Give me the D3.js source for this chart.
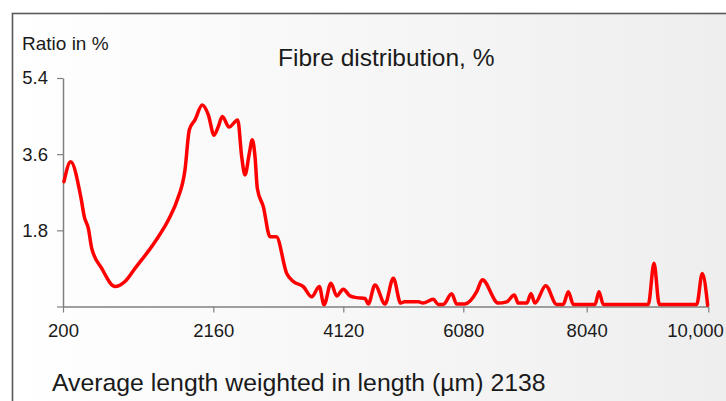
<!DOCTYPE html>
<html>
<head>
<meta charset="utf-8">
<script src="https://cdn.jsdelivr.net/npm/d3@7"></script>
<style>
  html, body { margin: 0; padding: 0; background: #ffffff; }
  svg { display: block; }
  text { font-family: "Liberation Sans", Arial, sans-serif; fill: #1a1a1a; }
</style>
</head>
<body>
<svg id="chart" width="726" height="401"></svg>
<script>
// ---- data ----
const chartTitle = "Fibre distribution, %";
const yTitle = "Ratio in %";
const footnote = "Average length weighted in length (µm) 2138";

const xTicks = [200, 2160, 4120, 6080, 8040, 10000];
const xTickLabels = ["200", "2160", "4120", "6080", "8040", "10,000"];
const yTicks = [0, 1.8, 3.6, 5.4];
const yTickLabels = ["", "1.8", "3.6", "5.4"];

// fibre length (µm)
const lengths = [
  213, 300, 435, 478, 530, 574, 705, 878, 1008, 1139, 1400, 1595, 1690, 1791, 1847, 1921,
  2016, 2095, 2171, 2235, 2296, 2397, 2528, 2588, 2638, 2703, 2748, 2789, 2824, 2914, 3015, 3110,
  3267, 3366, 3517, 3644, 3758, 3829, 3934, 4020, 4120, 4229, 4339, 4474, 4528, 4638, 4801, 4937,
  5057, 5120, 5350, 5420, 5590, 5671, 5753, 5890, 5972, 6107, 6293, 6382, 6636, 6769, 6890, 6953,
  7087, 7155, 7219, 7389, 7563, 7668, 7748, 7827, 8174, 8238, 8308, 9033, 9125, 9210, 9813, 9903, 9990
];
// ratio (%)
const ratios = [
  2.95, 3.42, 2.56, 2.12, 1.85, 1.38, 0.90, 0.47, 0.59, 0.90, 1.53, 2.12, 2.52, 3.23, 4.17, 4.41,
  4.76, 4.53, 4.05, 4.25, 4.49, 4.24, 4.41, 3.54, 3.11, 3.62, 3.94, 3.54, 2.79, 2.36, 1.65, 1.65,
  0.78, 0.59, 0.47, 0.23, 0.47, 0.04, 0.55, 0.25, 0.41, 0.25, 0.21, 0.19, 0.06, 0.51, 0.06, 0.67,
  0.08, 0.11, 0.11, 0.08, 0.17, 0.05, 0.05, 0.30, 0.06, 0.06, 0.35, 0.63, 0.08, 0.11, 0.27, 0.08,
  0.08, 0.30, 0.08, 0.49, 0.05, 0.05, 0.35, 0.05, 0.05, 0.35, 0.05, 0.05, 1.02, 0.05, 0.05, 0.78, 0.03
];

// ---- drawing ----
const svg = d3.select("#chart");
const W = 726, H = 401;

const defs = svg.append("defs");
const grad = defs.append("linearGradient")
  .attr("id", "bg").attr("gradientUnits", "userSpaceOnUse")
  .attr("x1", 12).attr("y1", 0).attr("x2", 726).attr("y2", 0);
grad.append("stop").attr("offset", "0%").attr("stop-color", "#ffffff");
grad.append("stop").attr("offset", "100%").attr("stop-color", "#eeeeee");

// panel with border (continues past the right and bottom edges)
svg.append("rect")
  .attr("x", 12.5).attr("y", 13.5).attr("width", W + 20).attr("height", H + 20)
  .attr("fill", "url(#bg)")
  .attr("stroke", "#5a5a5a").attr("stroke-width", 1.6);

const x = d3.scaleLinear().domain(xTicks).range([63, 213.3, 343.3, 463.3, 586.7, 708.3]);
const y = d3.scaleLinear().domain([0, 5.4]).range([306.5, 78]);

// y axis
const yAxis = svg.append("g")
  .attr("transform", "translate(63,0)")
  .call(d3.axisLeft(y).tickValues(yTicks)
    .tickFormat((d, i) => yTickLabels[i])
    .tickSize(6).tickSizeOuter(0).tickPadding(9));

// x axis
const xAxis = svg.append("g")
  .attr("transform", "translate(0,306.5)")
  .call(d3.axisBottom(x).tickValues(xTicks)
    .tickFormat((d, i) => xTickLabels[i])
    .tickSize(6).tickSizeOuter(0).tickPadding(11.5));

[yAxis, xAxis].forEach(g => {
  g.selectAll("path.domain").attr("stroke", "#808080").attr("stroke-width", 1.5);
  g.selectAll(".tick line").attr("stroke", "#808080").attr("stroke-width", 1.2);
  g.selectAll(".tick text")
    .style("font-family", '"Liberation Sans", Arial, sans-serif')
    .style("font-size", "18.5px").attr("fill", "#1a1a1a");
});
// keep the last x label inside the frame, as in the reference
xAxis.selectAll(".tick text")
  .filter((d, i, n) => i === n.length - 1)
  .attr("text-anchor", "end").attr("x", 15);

// line
const pts = lengths.map((l, i) => [l, ratios[i]]);
const line = d3.line()
  .x(d => x(d[0])).y(d => y(d[1]))
  .curve(d3.curveMonotoneX);

svg.append("path")
  .datum(pts)
  .attr("d", line)
  .attr("fill", "none")
  .attr("stroke", "#ff0000")
  .attr("stroke-width", 3.5)
  .attr("stroke-linejoin", "round")
  .attr("stroke-linecap", "round");

// texts
svg.append("text").attr("x", 22).attr("y", 50)
  .style("font-size", "19px").text(yTitle);

svg.append("text").attr("x", 278).attr("y", 66)
  .style("font-size", "24.5px").text(chartTitle);

svg.append("text").attr("x", 52).attr("y", 391)
  .style("font-size", "24.8px").text(footnote);
</script>
</body>
</html>
